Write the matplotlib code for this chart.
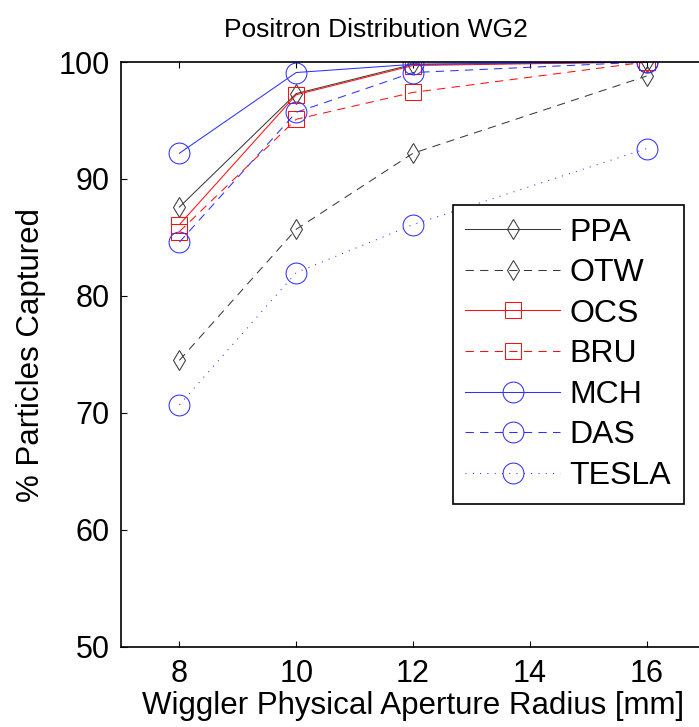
import numpy as np
import matplotlib
matplotlib.use('Agg')
import matplotlib.pyplot as plt
from matplotlib.lines import Line2D

plt.rcParams['font.family'] = ['Liberation Sans', 'DejaVu Sans']

# aperture radius [mm]
radius = [8, 10, 12, 16]

# % particles captured per design
ppa   = [87.6, 97.3, 99.8, 100.0]
otw   = [74.5, 85.7, 92.2, 98.8]
ocs   = [86.1, 97.2, 99.7, 100.0]
bru   = [85.5, 95.1, 97.4, 100.0]
mch   = [92.2, 99.1, 99.8, 100.0]
das   = [84.6, 95.7, 99.1, 100.0]
tesla = [70.7, 82.0, 86.1, 92.6]

names = ['PPA', 'OTW', 'OCS', 'BRU', 'MCH', 'DAS', 'TESLA']
series = [ppa, otw, ocs, bru, mch, das, tesla]
blk, red, blu = '#3a3a3a', '#ff1010', '#3030ff'
solid, dashed, dotted = '-', (0, (8, 6)), (0, (1, 6))
styles = [(blk, solid, 'd', 10.5), (blk, dashed, 'd', 10.5),
          (red, solid, 's', 11), (red, dashed, 's', 11),
          (blu, solid, 'o', 15), (blu, dashed, 'o', 15), (blu, dotted, 'o', 15)]

fig = plt.figure(figsize=(6.99, 7.27), dpi=100)
ax = fig.add_axes([121/699, 80/727, 584/699, 585/727])

handles = []
for name, vals, (c, ls, mk, ms) in zip(names, series, styles):
    kw = dict(color=c, linestyle=ls, marker=mk, markersize=ms,
              markerfacecolor='none', markeredgecolor=c, markeredgewidth=0.75,
              linewidth=0.75)
    ax.plot(radius, vals, **kw)
    handles.append(Line2D([], [], label=name, **kw))

ax.set_xlim(7, 17)
ax.set_ylim(50, 100)
ax.set_xticks([8, 10, 12, 14, 16])
ax.set_yticks([50, 60, 70, 80, 90, 100])
ax.tick_params(direction='in', length=4, width=0.8, top=True, right=True,
               labelsize=22)
ax.tick_params(axis='x', pad=9)
ax.tick_params(axis='y', pad=8)
for s in ax.spines.values():
    s.set_linewidth(1.2)

ax.set_title('Positron Distribution WG2', fontsize=19, pad=18, x=0.437)
ax.set_xlabel('Wiggler Physical Aperture Radius [mm]', fontsize=22.5, labelpad=1)
ax.set_ylabel('% Particles Captured', fontsize=22.5, labelpad=9)

leg = ax.legend(handles=handles, loc='upper left', bbox_to_anchor=(0.568, 0.756),
                fontsize=23, fancybox=False, edgecolor='k', framealpha=1,
                handlelength=2.95, handletextpad=0.3, labelspacing=0.33,
                borderpad=0.4, borderaxespad=0)
leg.get_frame().set_linewidth(1.2)

fig.savefig('out.png', dpi=100)
